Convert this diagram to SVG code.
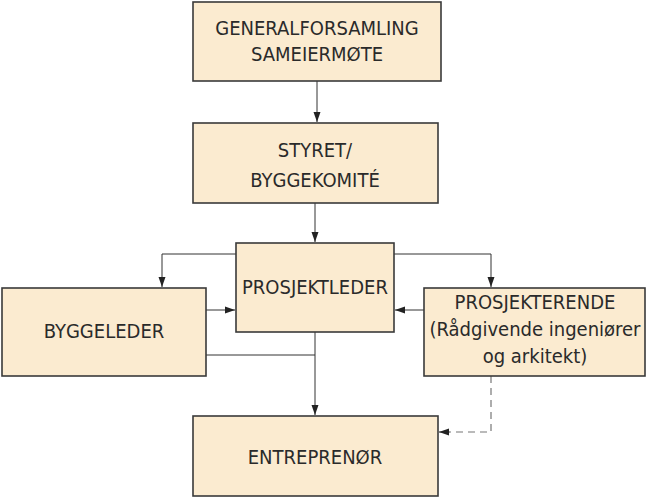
<svg xmlns="http://www.w3.org/2000/svg" width="647" height="498" viewBox="0 0 647 498">
<style>
.box{fill:#fbebd0;stroke:#3a3a3a;stroke-width:1.6}
.t{font-family:"DejaVu Sans Condensed","DejaVu Sans",sans-serif;font-stretch:condensed;font-size:20px;fill:#2a2a2a;text-anchor:middle}
.c{fill:none;stroke:#333;stroke-width:1}
.d{fill:none;stroke:#777;stroke-width:1.2;stroke-dasharray:7,5}
</style>
<defs>
<marker id="a" viewBox="0 0 10 10" refX="10" refY="5" markerWidth="10" markerHeight="10" markerUnits="userSpaceOnUse" orient="auto"><path d="M0,1.5 L10,5 L0,8.5 Z" fill="#222"/></marker>
</defs>
<g id="connectors">
<path class="c" d="M317,81 V122" marker-end="url(#a)"/>
<path class="c" d="M315,203 V242" marker-end="url(#a)"/>
<path class="c" d="M236,254 H162 V287" marker-end="url(#a)"/>
<path class="c" d="M394,254 H491 V287" marker-end="url(#a)"/>
<path class="c" d="M206,310 H235" marker-end="url(#a)"/>
<path class="c" d="M424,310 H395" marker-end="url(#a)"/>
<path class="c" d="M206,355 H315"/>
<path class="c" d="M315,332 V415" marker-end="url(#a)"/>
<path class="d" d="M491,376 V432 H450"/>
<path class="c" d="M450,432 H439" marker-end="url(#a)"/>
</g>
<g id="generalforsamling"><rect class="box" x="193" y="2" width="248" height="79"/><text class="t" x="317" y="35">GENERALFORSAMLING</text><text class="t" x="317" y="61">SAMEIERMØTE</text></g>
<g id="styret"><rect class="box" x="193" y="123" width="245" height="80"/><text class="t" x="315" y="157">STYRET/</text><text class="t" x="315" y="187">BYGGEKOMITÉ</text></g>
<g id="prosjektleder"><rect class="box" x="236" y="243" width="158" height="89"/><text class="t" x="315" y="294">PROSJEKTLEDER</text></g>
<g id="byggeleder"><rect class="box" x="2" y="288" width="204" height="88"/><text class="t" x="104" y="338">BYGGELEDER</text></g>
<g id="prosjekterende"><rect class="box" x="424" y="288" width="221" height="88"/><text class="t" x="535" y="309">PROSJEKTERENDE</text><text class="t" x="535" y="336">(Rådgivende ingeniører</text><text class="t" x="535" y="363">og arkitekt)</text></g>
<g id="entreprenor"><rect class="box" x="193" y="416" width="245" height="80"/><text class="t" x="315" y="464">ENTREPRENØR</text></g>
</svg>
